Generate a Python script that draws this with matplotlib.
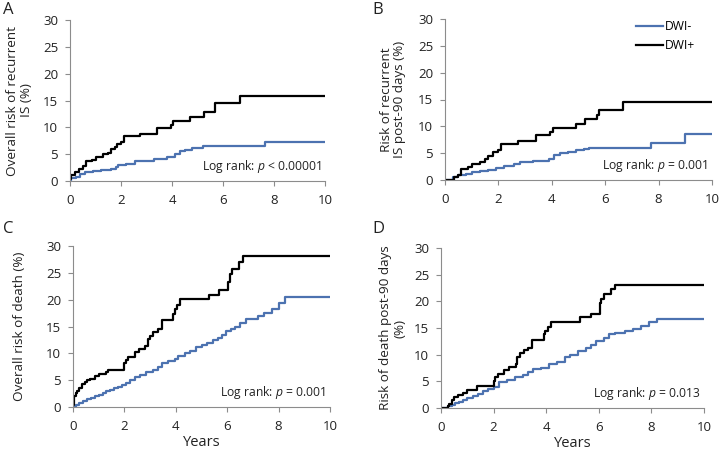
import matplotlib
matplotlib.use("Agg")
import matplotlib.pyplot as plt

plt.rcParams['font.family'] = ['Open Sans', 'DejaVu Sans']
plt.rcParams['mathtext.fontset'] = 'custom'
plt.rcParams['mathtext.it'] = 'Open Sans:italic'
plt.rcParams['mathtext.rm'] = 'Open Sans'

# ---------------- data (years, cumulative risk %) ----------------
# Panel A: overall risk of recurrent IS
a_pos_t = [0, 0.03, 0.2, 0.35, 0.5, 0.62, 0.85, 1.0, 1.3, 1.5, 1.6, 1.75, 1.85, 2.0, 2.1, 2.75, 3.4, 3.95, 4.05, 4.7, 5.25, 5.7, 6.65]
a_pos_v = [0.3, 1.2, 1.7, 2.2, 2.8, 3.8, 4.0, 4.5, 5.0, 5.3, 5.9, 6.3, 6.9, 7.3, 8.3, 8.8, 9.9, 10.5, 11.2, 11.9, 12.8, 14.6, 15.8]
a_neg_t = [0, 0.05, 0.25, 0.4, 0.6, 0.9, 1.2, 1.6, 1.8, 1.9, 2.2, 2.55, 3.3, 3.8, 4.1, 4.3, 4.5, 4.8, 5.2, 7.65]
a_neg_v = [0.0, 0.5, 0.8, 1.3, 1.6, 1.8, 2.1, 2.3, 2.6, 2.9, 3.2, 3.8, 4.1, 4.4, 5.1, 5.5, 5.8, 6.1, 6.5, 7.3]

# Panel B: risk of recurrent IS post-90 days
b_pos_t = [0, 0.35, 0.5, 0.6, 0.85, 1.0, 1.3, 1.5, 1.6, 1.8, 2.0, 2.1, 2.75, 3.4, 3.95, 4.05, 4.9, 5.25, 5.7, 5.75, 6.65]
b_pos_v = [0.0, 0.5, 1.0, 2.1, 2.5, 3.0, 3.4, 3.9, 4.4, 5.2, 5.6, 6.7, 7.2, 8.4, 9.0, 9.7, 10.5, 11.3, 12.2, 13.1, 14.5]
b_neg_t = [0, 0.3, 0.5, 0.8, 1.0, 1.3, 1.6, 1.9, 2.2, 2.6, 2.8, 3.3, 3.9, 4.1, 4.3, 4.6, 4.9, 5.2, 5.4, 7.7, 9.0]
b_neg_v = [0.0, 0.5, 0.9, 1.2, 1.4, 1.6, 1.9, 2.3, 2.6, 3.0, 3.3, 3.6, 3.9, 4.6, 5.0, 5.3, 5.6, 5.8, 6.0, 6.9, 8.5]

# Panel C: overall risk of death
c_pos_t = [0, 0.02, 0.05, 0.1, 0.15, 0.25, 0.35, 0.45, 0.55, 0.65, 0.85, 1.0, 1.3, 1.35, 2.0, 2.05, 2.15, 2.4, 2.55, 2.8, 2.9, 3.0, 3.1, 3.3, 3.45, 3.9, 3.95, 4.05, 4.15, 5.3, 5.7, 6.05, 6.1, 6.2, 6.45, 6.6]
c_pos_v = [0.3, 1.0, 2.0, 2.7, 3.0, 3.6, 4.2, 4.6, 5.1, 5.3, 5.7, 6.1, 6.5, 6.9, 8.2, 8.8, 9.3, 10.2, 10.8, 11.4, 12.6, 13.3, 13.9, 14.5, 16.2, 17.4, 18.2, 19.0, 20.1, 20.8, 21.8, 23.3, 24.8, 25.8, 27.0, 28.2]
c_neg_t = [0, 0.1, 0.25, 0.4, 0.55, 0.7, 0.85, 1.0, 1.15, 1.3, 1.45, 1.6, 1.75, 1.9, 2.05, 2.2, 2.4, 2.6, 2.85, 3.1, 3.3, 3.45, 3.7, 3.95, 4.1, 4.35, 4.55, 4.8, 5.0, 5.2, 5.45, 5.65, 5.8, 5.95, 6.15, 6.3, 6.5, 6.75, 7.2, 7.45, 7.75, 8.0, 8.25]
c_neg_v = [0.0, 0.4, 0.8, 1.2, 1.4, 1.7, 2.0, 2.3, 2.6, 2.9, 3.2, 3.5, 3.8, 4.1, 4.5, 5.1, 5.6, 6.0, 6.5, 6.9, 7.4, 8.2, 8.5, 9.0, 9.5, 10.0, 10.4, 11.1, 11.5, 12.0, 12.5, 12.9, 13.5, 14.1, 14.6, 15.0, 15.6, 16.4, 17.0, 17.6, 18.3, 19.4, 20.5]

# Panel D: risk of death post-90 days
d_pos_t = [0, 0.25, 0.3, 0.4, 0.5, 0.65, 0.85, 1.0, 1.35, 2.0, 2.05, 2.15, 2.4, 2.6, 2.85, 2.9, 3.0, 3.15, 3.3, 3.45, 3.9, 3.95, 4.05, 4.2, 5.3, 5.7, 6.05, 6.1, 6.2, 6.45, 6.6]
d_pos_v = [0.0, 0.3, 0.8, 1.5, 2.1, 2.5, 2.9, 3.3, 4.1, 5.0, 5.8, 6.4, 7.2, 7.7, 8.2, 9.5, 10.3, 10.8, 11.3, 12.8, 13.9, 14.5, 15.2, 16.2, 17.0, 17.7, 19.6, 20.4, 21.3, 22.3, 23.1]
d_neg_t = [0, 0.25, 0.4, 0.55, 0.7, 0.85, 1.0, 1.2, 1.4, 1.6, 1.8, 2.0, 2.2, 2.5, 2.8, 3.1, 3.3, 3.5, 3.8, 4.1, 4.4, 4.7, 4.9, 5.2, 5.5, 5.7, 5.9, 6.2, 6.4, 6.6, 7.0, 7.3, 7.6, 7.9, 8.2]
d_neg_v = [0.0, 0.3, 0.6, 0.9, 1.2, 1.5, 1.9, 2.3, 2.7, 3.1, 3.5, 4.0, 4.8, 5.3, 5.8, 6.2, 6.7, 7.3, 7.5, 8.2, 8.7, 9.5, 10.0, 10.7, 11.2, 11.8, 12.6, 13.1, 13.8, 14.1, 14.4, 14.9, 15.4, 16.1, 16.7]

panel_letters = ["A", "B", "C", "D"]
ylabels = ["Overall risk of recurrent\nIS (%)",
           "Risk of recurrent\nIS post-90 days (%)",
           "Overall risk of death (%)",
           "Risk of death post-90 days\n(%)"]
pvals = ["Log rank: $p$ < 0.00001", "Log rank: $p$ = 0.001",
         "Log rank: $p$ = 0.001", "Log rank: $p$ = 0.013"]
series_names = ["DWI-", "DWI+"]
xticks = [0, 2, 4, 6, 8, 10]
yticks = [0, 5, 10, 15, 20, 25, 30]

data = [(a_neg_t, a_neg_v, a_pos_t, a_pos_v),
        (b_neg_t, b_neg_v, b_pos_t, b_pos_v),
        (c_neg_t, c_neg_v, c_pos_t, c_pos_v),
        (d_neg_t, d_neg_v, d_pos_t, d_pos_v)]

W, H = 719, 450
boxes = [(70, 325, 20, 181), (445, 712, 19, 180), (73, 330, 246, 407), (441, 704, 248, 408)]
letter_pos = [(3, 2), (372, 2), (3, 221), (372, 221)]
ylab_x = [20, 393, 20, 393]

blue = "#4c72b0"
grey = "#8c8c8c"
txt = "#222222"

fig = plt.figure(figsize=(W / 100, H / 100), dpi=100)
for i in range(4):
    l, r, t, b = boxes[i]
    ax = fig.add_axes([l / W, 1 - b / H, (r - l) / W, (b - t) / H])
    nt, nv, pt, pv = data[i]
    ax.step(list(nt) + [10], list(nv) + [nv[-1]], where='post', color=blue, lw=1.6, label=series_names[0])
    ax.step(list(pt) + [10], list(pv) + [pv[-1]], where='post', color='black', lw=1.6, label=series_names[1])
    ax.set_xlim(0, 10)
    ax.set_ylim(0, 30)
    ax.set_xticks(xticks)
    ax.set_yticks(yticks)
    for s in ['top', 'right']:
        ax.spines[s].set_visible(False)
    for s in ['left', 'bottom']:
        ax.spines[s].set_color(grey)
        ax.spines[s].set_linewidth(0.8)
    ax.tick_params(colors=grey, labelcolor=txt, labelsize=9.5, length=3.5, width=0.8)
    ax.tick_params(axis='x', pad=6)
    ax.tick_params(axis='y', pad=5)
    ax.text(9.85, 2.7, pvals[i], ha='right', va='center', fontsize=8.7, color=txt)
    if i >= 2:
        ax.set_xlabel("Years", fontsize=10.5, color=txt, labelpad=1)
    fig.text(ylab_x[i] / W, 1 - ((t + b) / 2) / H, ylabels[i], rotation=90, ha='center', va='center',
             fontsize=9.7, color=txt, linespacing=1.1)
    fig.text(letter_pos[i][0] / W, 1 - letter_pos[i][1] / H, panel_letters[i], ha='left', va='top',
             fontsize=12, color=txt)
    if i == 1:
        ax.legend(loc='upper right', frameon=False, fontsize=8.7, handlelength=2.2, handletextpad=0.2,
                  borderaxespad=0.1, labelspacing=0.5, bbox_to_anchor=(0.96, 1.03))

fig.savefig("out.png", dpi=100)
